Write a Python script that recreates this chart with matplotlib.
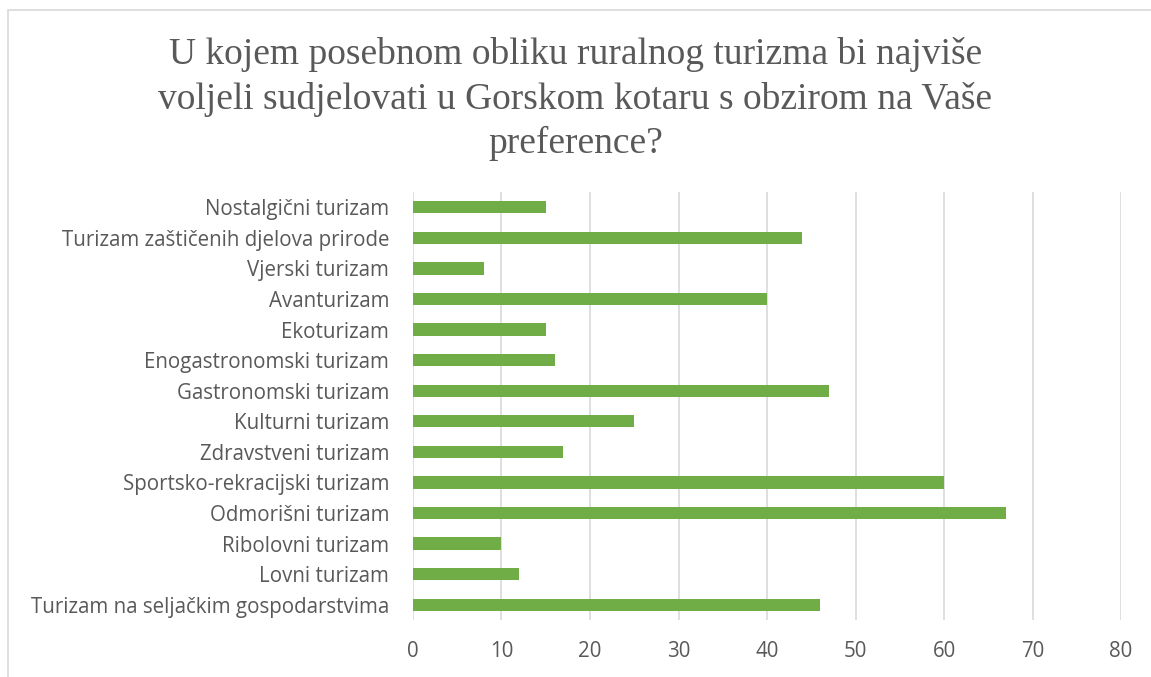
import matplotlib.pyplot as plt
from matplotlib.patches import Rectangle

# Podaci (odozgo prema dolje kao na grafu)
kategorije = [
    "Nostalgični turizam",
    "Turizam zaštičenih djelova prirode",
    "Vjerski turizam",
    "Avanturizam",
    "Ekoturizam",
    "Enogastronomski turizam",
    "Gastronomski turizam",
    "Kulturni turizam",
    "Zdravstveni turizam",
    "Sportsko-rekracijski turizam",
    "Odmorišni turizam",
    "Ribolovni turizam",
    "Lovni turizam",
    "Turizam na seljačkim gospodarstvima",
]
vrijednosti = [15, 44, 8, 40, 15, 16, 47, 25, 17, 60, 67, 10, 12, 46]
x_ticks = [0, 10, 20, 30, 40, 50, 60, 70, 80]

naslov = ("U kojem posebnom obliku ruralnog turizma bi najviše\n"
          "voljeli sudjelovati u Gorskom kotaru s obzirom na Vaše\n"
          "preference?")

siva = "#595959"
zelena = "#70AD47"

fig = plt.figure(figsize=(11.51, 6.77), dpi=100)
ax = fig.add_axes([0.3588, 0.0842, 0.6152, 0.6322])

pozicije = list(range(len(kategorije)))
ax.barh(pozicije, vrijednosti, height=0.4, color=zelena, zorder=3)
ax.set_ylim(len(kategorije) - 0.5, -0.5)
ax.set_xlim(0, 80)
ax.set_xticks(x_ticks)
ax.set_yticks(pozicije)
ax.set_yticklabels(kategorije)

ax.grid(axis="x", color="#D9D9D9", linewidth=1.2, zorder=0)
for s in ax.spines.values():
    s.set_visible(False)
ax.tick_params(axis="both", length=0, colors=siva, labelsize=14.8)
ax.tick_params(axis="x", pad=15)
ax.tick_params(axis="y", pad=17)
for lbl in ax.get_xticklabels() + ax.get_yticklabels():
    lbl.set_fontfamily("Open Sans")
    lbl.set_color(siva)

fig.text(0.5, 0.945, naslov, ha="center", va="top", fontsize=27,
         family="Liberation Serif", color=siva, linespacing=1.35)

# okvir grafa
fig.patches.append(Rectangle((8 / 1151, -0.01), 1.2, 1 - 10 / 677 + 0.01,
                             transform=fig.transFigure, fill=False,
                             edgecolor="#D9D9D9", linewidth=1.2))

fig.savefig("out.png", dpi=100)
